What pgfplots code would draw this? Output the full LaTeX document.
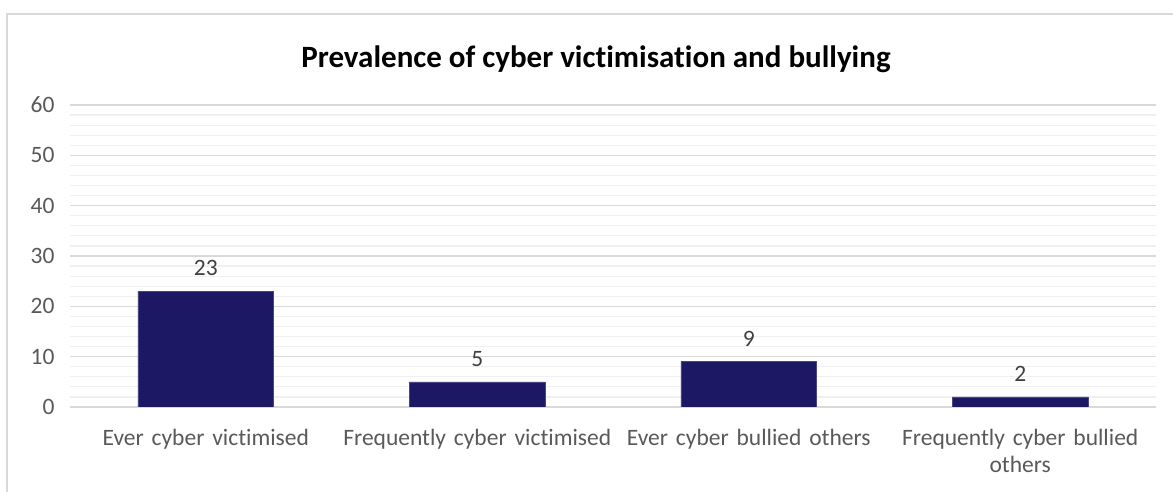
\documentclass[border=0pt]{standalone}
\usepackage{pgfplots}
\pgfplotsset{compat=1.18}
\usepackage{fontspec}
\setmainfont{Carlito}[Ligatures={NoCommon}]
\definecolor{barc}{RGB}{28,24,100}
\definecolor{majg}{RGB}{217,217,217}
\definecolor{ming}{RGB}{240,240,240}
\definecolor{tickc}{RGB}{89,89,89}
\definecolor{labc}{RGB}{64,64,64}
\begin{document}
\begin{tikzpicture}[x=1pt,y=1pt]
\path[use as bounding box] (0,0) rectangle (1173,492);
\draw[majg,line width=2pt] (7,0) -- (7,478) -- (1180,478);
\node[font=\fontsize{31}{36}\selectfont\bfseries,text=black] at (596,433) {Prevalence of cyber victimisation and bullying};
\begin{axis}[
  at={(70pt,85pt)}, anchor=south west,
  scale only axis, width=1086pt, height=302pt,
  xmin=-0.5, xmax=3.5, ymin=0, ymax=60,
  ytick={0,10,...,60}, minor ytick={2,4,...,58},
  ymajorgrids, yminorgrids,
  major grid style={majg,line width=1.2pt},
  minor grid style={ming,line width=1.2pt},
  axis line style={draw=none},
  axis x line*=bottom,
  x axis line style={majg,line width=1.2pt},
  xtick={0,1,2,3},
  xticklabels={Ever cyber victimised,Frequently cyber victimised,Ever cyber bullied others,{Frequently cyber bullied\\others}},
  xticklabel style={font=\fontsize{23.5}{26.5}\selectfont,text=tickc,text width=268pt,align=center,anchor=north,yshift=-19pt},
  yticklabel style={font=\fontsize{23.5}{27}\selectfont,text=tickc,xshift=-12pt},
  major tick length=0pt, minor tick length=0pt,
  /pgf/number format/assume math mode=true,
  ybar, bar width=0.5,
  nodes near coords,
  every node near coord/.append style={font=\fontsize{23.5}{27}\selectfont,text=labc,yshift=12pt},
]
\addplot[fill=barc,draw=barc!80!white,line width=0.6pt] coordinates {(0,23) (1,5) (2,9) (3,2)};
\end{axis}
\end{tikzpicture}
\end{document}
